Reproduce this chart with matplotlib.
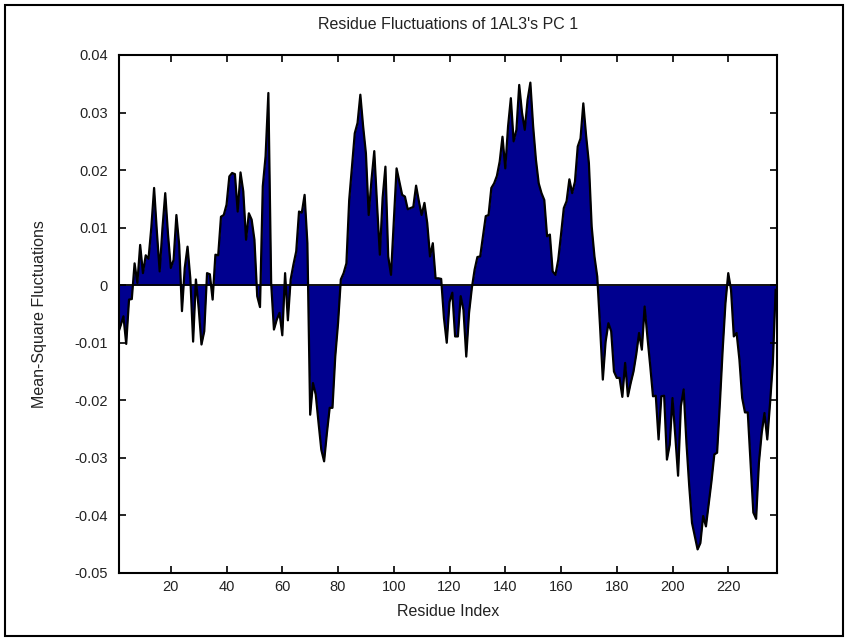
import numpy as np
import matplotlib
matplotlib.use("Agg")
import matplotlib.pyplot as plt
from matplotlib.patches import Rectangle

# Mean-square fluctuation per residue (PC 1)
fluct = [
    -0.0085, -0.0070, -0.0054, -0.0102, -0.0025, -0.0024, 0.0038, 0.0004, 0.0070, 0.0021,
    0.0052, 0.0046, 0.0100, 0.0169, 0.0093, 0.0024, 0.0099, 0.0160, 0.0088, 0.0030,
    0.0044, 0.0122, 0.0070, -0.0045, 0.0030, 0.0067, 0.0012, -0.0098, 0.0010, -0.0040,
    -0.0103, -0.0080, 0.0021, 0.0019, -0.0025, 0.0053, 0.0052, 0.0119, 0.0122, 0.0140,
    0.0189, 0.0195, 0.0193, 0.0128, 0.0196, 0.0163, 0.0079, 0.0125, 0.0114, 0.0079,
    -0.0019, -0.0038, 0.0172, 0.0224, 0.0334, 0.0004, -0.0077, -0.0060, -0.0048, -0.0087,
    0.0021, -0.0061, 0.0010, 0.0036, 0.0059, 0.0128, 0.0126, 0.0157, 0.0073, -0.0225,
    -0.0170, -0.0190, -0.0239, -0.0286, -0.0306, -0.0257, -0.0213, -0.0213, -0.0124, -0.0066,
    0.0010, 0.0021, 0.0038, 0.0148, 0.0206, 0.0264, 0.0282, 0.0331, 0.0276, 0.0229,
    0.0122, 0.0183, 0.0233, 0.0140, 0.0053, 0.0152, 0.0206, 0.0050, 0.0018, 0.0110,
    0.0203, 0.0180, 0.0157, 0.0154, 0.0132, 0.0134, 0.0136, 0.0173, 0.0146, 0.0122,
    0.0143, 0.0108, 0.0050, 0.0073, 0.0012, 0.0012, 0.0011, -0.0057, -0.0100, -0.0029,
    -0.0013, -0.0089, -0.0089, -0.0019, -0.0043, -0.0124, -0.0048, -0.0005, 0.0027, 0.0049,
    0.0050, 0.0085, 0.0120, 0.0122, 0.0169, 0.0177, 0.0190, 0.0215, 0.0258, 0.0203,
    0.0276, 0.0325, 0.0250, 0.0270, 0.0348, 0.0300, 0.0270, 0.0322, 0.0352, 0.0276,
    0.0218, 0.0177, 0.0160, 0.0148, 0.0085, 0.0088, 0.0024, 0.0018, 0.0044, 0.0088,
    0.0134, 0.0146, 0.0184, 0.0160, 0.0180, 0.0241, 0.0255, 0.0316, 0.0260, 0.0212,
    0.0102, 0.0050, 0.0015, -0.0071, -0.0164, -0.0098, -0.0066, -0.0080, -0.0150, -0.0161,
    -0.0161, -0.0194, -0.0135, -0.0193, -0.0170, -0.0150, -0.0120, -0.0083, -0.0112, -0.0037,
    -0.0090, -0.0140, -0.0193, -0.0192, -0.0268, -0.0193, -0.0192, -0.0303, -0.0277, -0.0196,
    -0.0262, -0.0331, -0.0210, -0.0181, -0.0274, -0.0349, -0.0413, -0.0436, -0.0459, -0.0448,
    -0.0401, -0.0419, -0.0380, -0.0340, -0.0294, -0.0291, -0.0205, -0.0112, -0.0031, 0.0021,
    -0.0008, -0.0089, -0.0083, -0.0129, -0.0196, -0.0221, -0.0221, -0.0309, -0.0395, -0.0406,
    -0.0309, -0.0257, -0.0222, -0.0268, -0.0205, -0.0135, -0.0008,
]
residue = np.arange(1, len(fluct) + 1)

xticks = [20, 40, 60, 80, 100, 120, 140, 160, 180, 200, 220]
yticks = [0.04, 0.03, 0.02, 0.01, 0, -0.01, -0.02, -0.03, -0.04, -0.05]
ytick_labels = ["0.04", "0.03", "0.02", "0.01", "0", "-0.01", "-0.02", "-0.03", "-0.04", "-0.05"]

plt.rcParams['font.family'] = ['Liberation Sans', 'DejaVu Sans']

fig = plt.figure(figsize=(8.48, 6.41), dpi=100)
ax = fig.add_axes([0.1403, 0.1061, 0.7760, 0.8081])

y = np.array(fluct)
ax.fill_between(residue, y, 0, color='#00008f', linewidth=0)
ax.plot(residue, y, color='black', linewidth=1.6)
ax.axhline(0, color='black', linewidth=1.3)

ax.set_xlim(1.4, 237.5)
ax.set_ylim(-0.05, 0.04)
ax.set_xticks(xticks)
ax.set_yticks(yticks)
ax.set_yticklabels(ytick_labels)
ax.tick_params(direction='in', length=5, width=1.2, top=True, right=True,
               labelsize=10.5, pad=5, colors='black', labelcolor='#222222')
ax.tick_params(axis='y', pad=8)
for s in ax.spines.values():
    s.set_linewidth(1.5)

ax.set_title("Residue Fluctuations of 1AL3's PC 1", fontsize=11.5, pad=19, color='#222222')
ax.set_xlabel("Residue Index", fontsize=11.5, labelpad=7, color='#222222')
ax.set_ylabel("Mean-Square Fluctuations", fontsize=11.5, labelpad=20, color='#222222')

# outer frame around the whole figure
fig.patches.append(Rectangle((0.006, 0.008), 0.988, 0.984, transform=fig.transFigure,
                             fill=False, edgecolor='black', linewidth=1.5))

fig.savefig("out.png", dpi=100)
